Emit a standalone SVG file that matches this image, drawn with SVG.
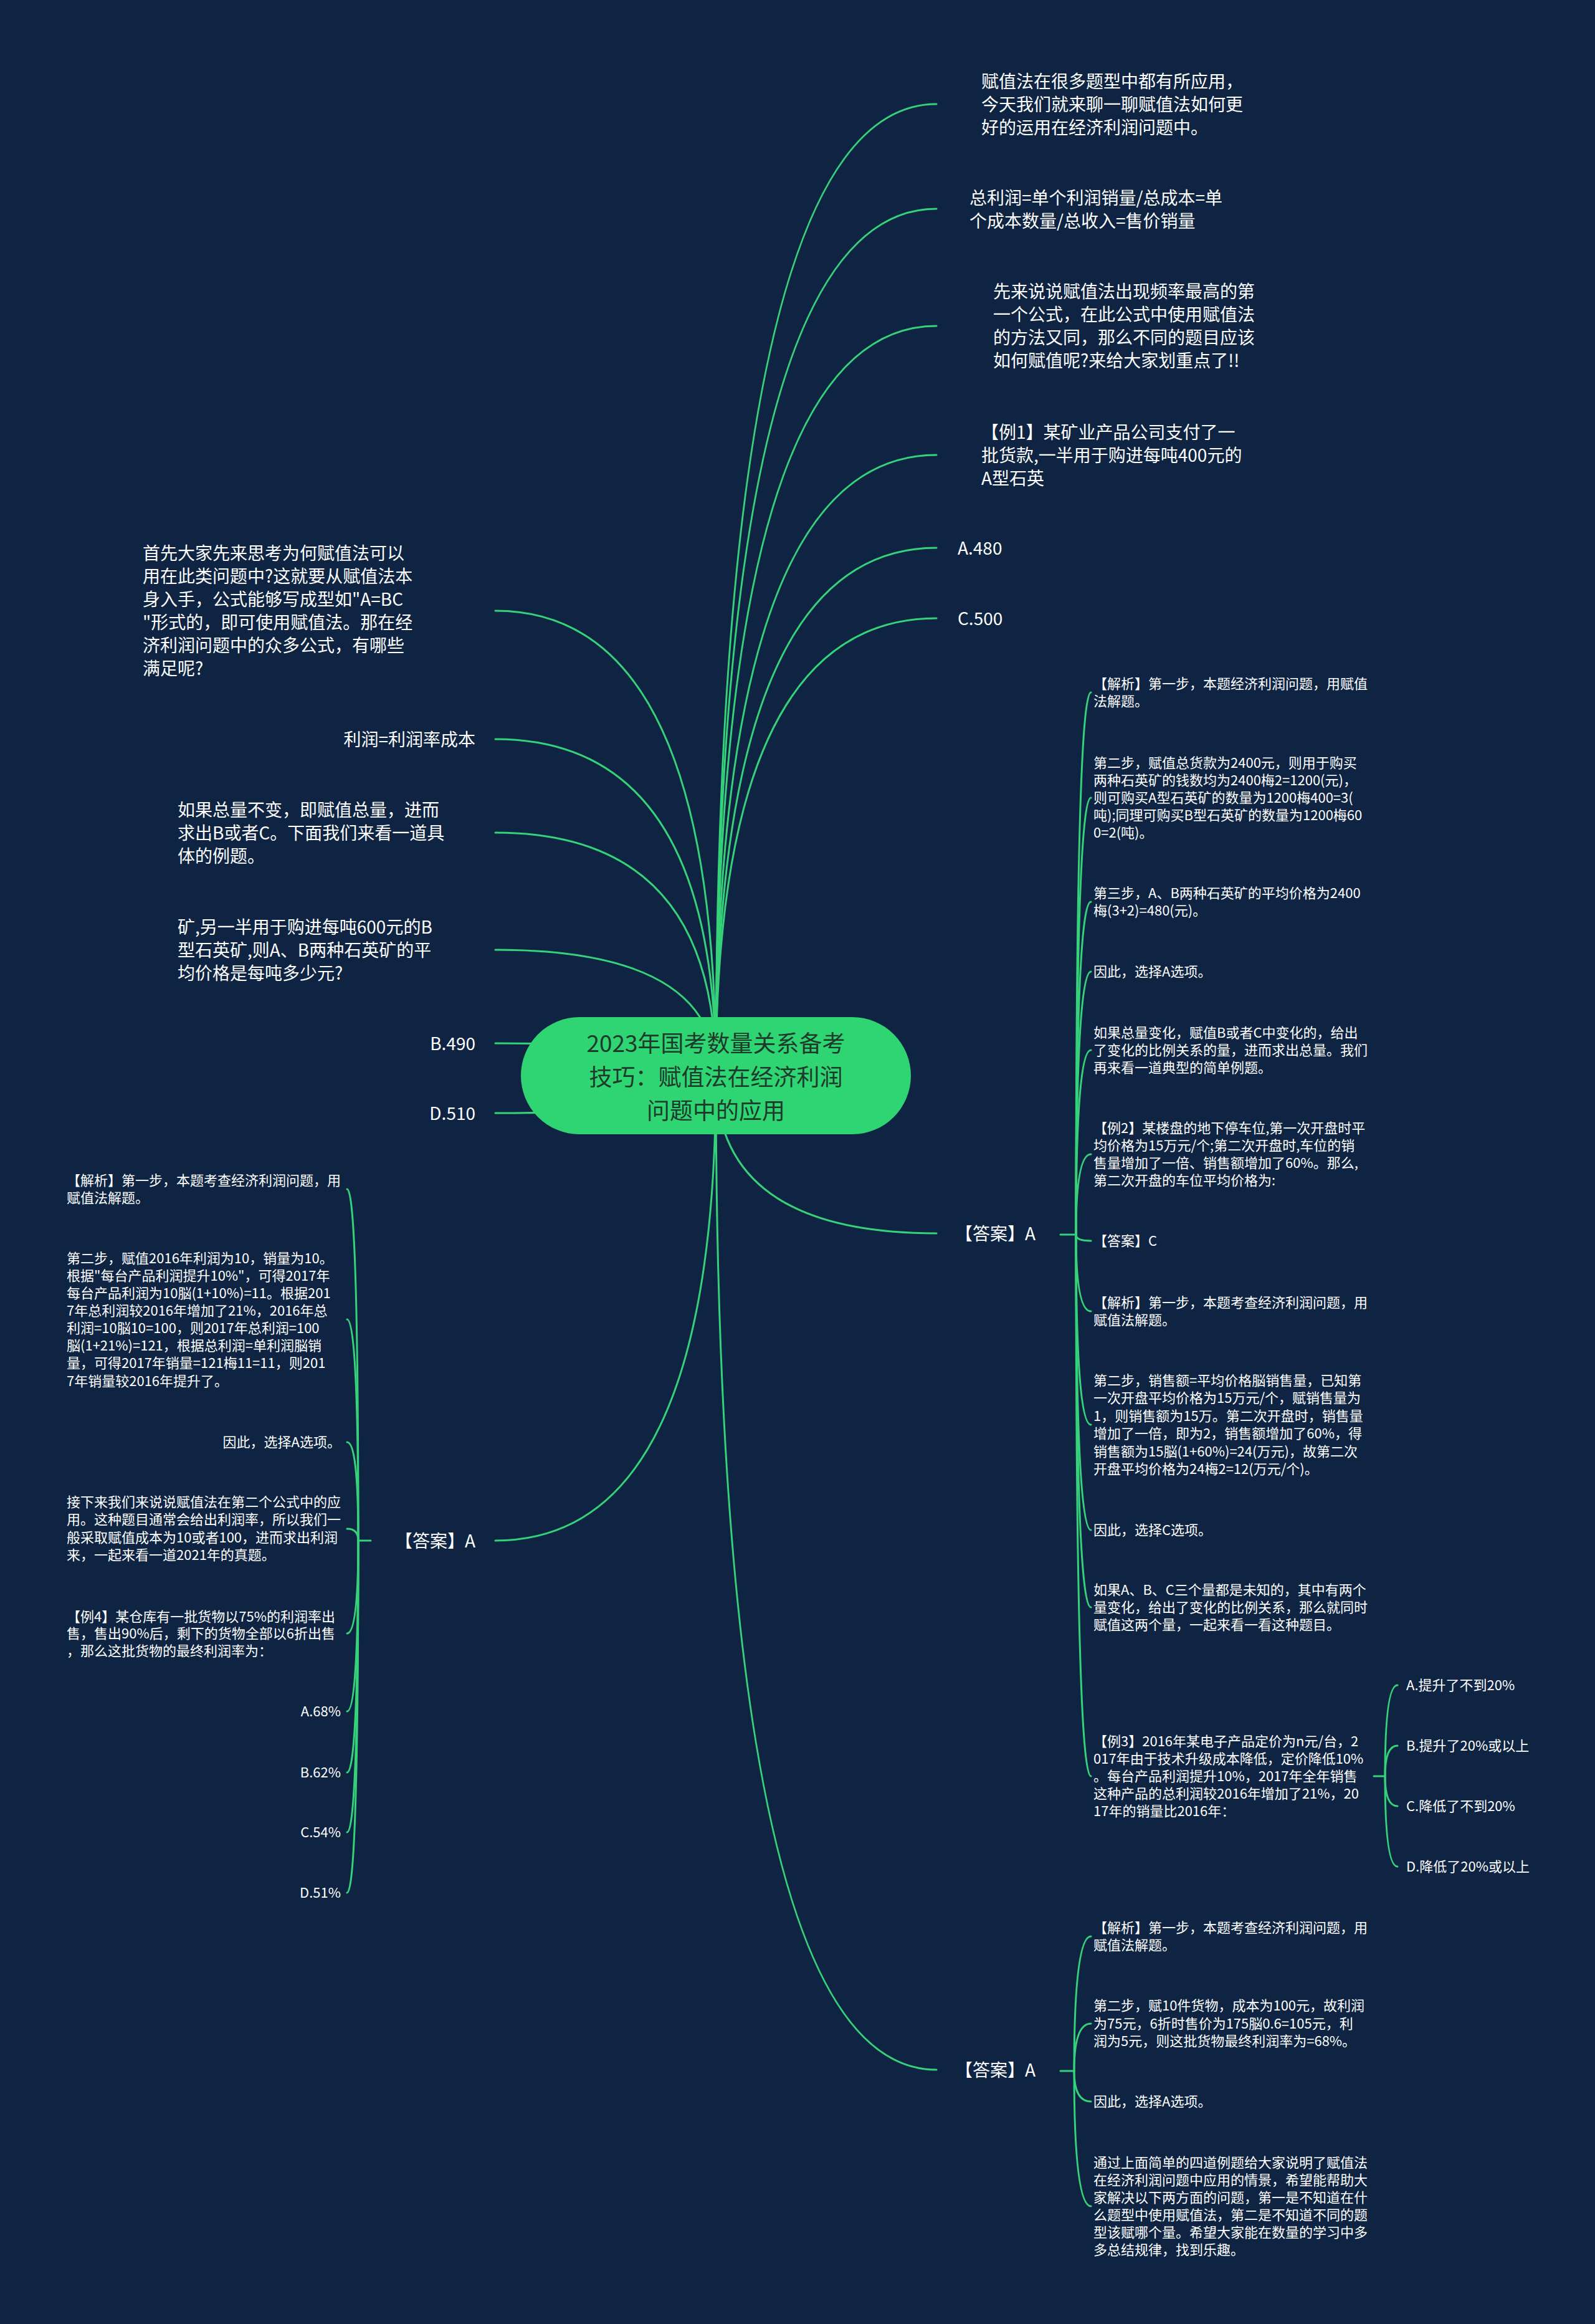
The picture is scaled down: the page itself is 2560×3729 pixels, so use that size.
<svg xmlns="http://www.w3.org/2000/svg" width="2560" height="3729" viewBox="0 0 2560 3729">
<style>
.t{font-family:"Noto Sans CJK SC","Noto Sans",sans-serif;fill:#ffffff}
.f28{font-size:28px}
.f22{font-size:22px}
.e{text-anchor:end}
.root{font-family:"Noto Sans CJK SC","Noto Sans",sans-serif;font-size:37px;fill:#1d3a2b;text-anchor:middle}
.c{fill:none;stroke:#36d27a;stroke-width:3;stroke-linecap:round}
</style>
<rect x="0" y="0" width="2560" height="3729" fill="#0e2442"/>
<g id="connectors">
<path class="c" d="M1149 1726 Q1149 167 1503 167"/>
<path class="c" d="M1149 1726 Q1149 335 1503 335"/>
<path class="c" d="M1149 1726 Q1149 523 1503 523"/>
<path class="c" d="M1149 1726 Q1149 730 1503 730"/>
<path class="c" d="M1149 1726 Q1149 879 1503 879"/>
<path class="c" d="M1149 1726 Q1149 992 1503 992"/>
<path class="c" d="M1149 1726 Q1149 1979 1503 1979"/>
<path class="c" d="M1149 1726 Q1149 3321 1503 3321"/>
<path class="c" d="M1149 1726 Q1149 980 795 980"/>
<path class="c" d="M1149 1726 Q1149 1186 795 1186"/>
<path class="c" d="M1149 1726 Q1149 1336 795 1336"/>
<path class="c" d="M1149 1726 Q1149 1524 795 1524"/>
<path class="c" d="M1149 1726 Q1149 1674 795 1674"/>
<path class="c" d="M1149 1726 Q1149 1786 795 1786"/>
<path class="c" d="M1149 1726 Q1149 2472 795 2472"/>
<!-- R7 bracket -->
<path class="c" d="M1702 1981 L1727 1981"/>
<path class="c" d="M1727 1981 Q1727 1111 1751 1111"/>
<path class="c" d="M1727 1981 Q1727 1280 1751 1280"/>
<path class="c" d="M1727 1981 Q1727 1447 1751 1447"/>
<path class="c" d="M1727 1981 Q1727 1559 1751 1559"/>
<path class="c" d="M1727 1981 Q1727 1685 1751 1685"/>
<path class="c" d="M1727 1981 Q1727 1852 1751 1852"/>
<path class="c" d="M1727 1981 Q1727 1991 1751 1991"/>
<path class="c" d="M1727 1981 Q1727 2104 1751 2104"/>
<path class="c" d="M1727 1981 Q1727 2286 1751 2286"/>
<path class="c" d="M1727 1981 Q1727 2455 1751 2455"/>
<path class="c" d="M1727 1981 Q1727 2579 1751 2579"/>
<path class="c" d="M1727 1981 Q1727 2850 1751 2850"/>
<!-- c12 bracket -->
<path class="c" d="M2205 2850 L2223 2850"/>
<path class="c" d="M2223 2850 Q2223 2704 2243 2704"/>
<path class="c" d="M2223 2850 Q2223 2801 2243 2801"/>
<path class="c" d="M2223 2850 Q2223 2898 2243 2898"/>
<path class="c" d="M2223 2850 Q2223 2995 2243 2995"/>
<!-- R8 bracket -->
<path class="c" d="M1702 3323 L1724 3323"/>
<path class="c" d="M1724 3323 Q1724 3107 1751 3107"/>
<path class="c" d="M1724 3323 Q1724 3247 1751 3247"/>
<path class="c" d="M1724 3323 Q1724 3372 1751 3372"/>
<path class="c" d="M1724 3323 Q1724 3540 1751 3540"/>
<!-- L7 bracket -->
<path class="c" d="M595 2472 L575 2472"/>
<path class="c" d="M575 2472 Q575 1908 557 1908"/>
<path class="c" d="M575 2472 Q575 2117 557 2117"/>
<path class="c" d="M575 2472 Q575 2314 557 2314"/>
<path class="c" d="M575 2472 Q575 2453 557 2453"/>
<path class="c" d="M575 2472 Q575 2621 557 2621"/>
<path class="c" d="M575 2472 Q575 2746 557 2746"/>
<path class="c" d="M575 2472 Q575 2844 557 2844"/>
<path class="c" d="M575 2472 Q575 2940 557 2940"/>
<path class="c" d="M575 2472 Q575 3037 557 3037"/>
</g>
<g id="root">
<rect x="836" y="1632" width="626" height="188" rx="94" ry="94" fill="#30d573"/>
<text class="root"><tspan x="1149" y="1688">2023年国考数量关系备考</tspan><tspan x="1149" y="1742">技巧：赋值法在经济利润</tspan><tspan x="1149" y="1796">问题中的应用</tspan></text>
</g>
<g id="r1"><text class="t f28"><tspan x="1575" y="141">赋值法在很多题型中都有所应用，</tspan><tspan x="1575" y="178">今天我们就来聊一聊赋值法如何更</tspan><tspan x="1575" y="215">好的运用在经济利润问题中。</tspan></text></g>
<g id="r2"><text class="t f28"><tspan x="1556" y="328">总利润=单个利润销量/总成本=单</tspan><tspan x="1556" y="365">个成本数量/总收入=售价销量</tspan></text></g>
<g id="r3"><text class="t f28"><tspan x="1594" y="478">先来说说赋值法出现频率最高的第</tspan><tspan x="1594" y="515">一个公式，在此公式中使用赋值法</tspan><tspan x="1594" y="552">的方法又同，那么不同的题目应该</tspan><tspan x="1594" y="589">如何赋值呢?来给大家划重点了!!</tspan></text></g>
<g id="r4"><text class="t f28"><tspan x="1575" y="704">【例1】某矿业产品公司支付了一</tspan><tspan x="1575" y="741">批货款,一半用于购进每吨400元的</tspan><tspan x="1575" y="778">A型石英</tspan></text></g>
<g id="r5"><text class="t f28" x="1537" y="890">A.480</text></g>
<g id="r6"><text class="t f28" x="1537" y="1003">C.500</text></g>
<g id="r7"><text class="t f28" x="1533" y="1990">【答案】A</text></g>
<g id="r8"><text class="t f28" x="1533" y="3332">【答案】A</text></g>
<g id="l1"><text class="t f28"><tspan x="229" y="898">首先大家先来思考为何赋值法可以</tspan><tspan x="229" y="935">用在此类问题中?这就要从赋值法本</tspan><tspan x="229" y="972">身入手，公式能够写成型如"A=BC</tspan><tspan x="229" y="1009">"形式的，即可使用赋值法。那在经</tspan><tspan x="229" y="1046">济利润问题中的众多公式，有哪些</tspan><tspan x="229" y="1083">满足呢?</tspan></text></g>
<g id="l2"><text class="t f28 e" x="763" y="1197">利润=利润率成本</text></g>
<g id="l3"><text class="t f28"><tspan x="285" y="1310">如果总量不变，即赋值总量，进而</tspan><tspan x="285" y="1347">求出B或者C。下面我们来看一道具</tspan><tspan x="285" y="1384">体的例题。</tspan></text></g>
<g id="l4"><text class="t f28"><tspan x="285" y="1498">矿,另一半用于购进每吨600元的B</tspan><tspan x="285" y="1535">型石英矿,则A、B两种石英矿的平</tspan><tspan x="285" y="1572">均价格是每吨多少元?</tspan></text></g>
<g id="l5"><text class="t f28 e" x="763" y="1685">B.490</text></g>
<g id="l6"><text class="t f28 e" x="763" y="1797">D.510</text></g>
<g id="l7"><text class="t f28 e" x="763" y="2483">【答案】A</text></g>
<g id="c1"><text class="t f22"><tspan x="1755" y="1105">【解析】第一步，本题经济利润问题，用赋值</tspan><tspan x="1755" y="1133">法解题。</tspan></text></g>
<g id="c2"><text class="t f22"><tspan x="1755" y="1232">第二步，赋值总货款为2400元，则用于购买</tspan><tspan x="1755" y="1260">两种石英矿的钱数均为2400梅2=1200(元)，</tspan><tspan x="1755" y="1288">则可购买A型石英矿的数量为1200梅400=3(</tspan><tspan x="1755" y="1316">吨);同理可购买B型石英矿的数量为1200梅60</tspan><tspan x="1755" y="1344">0=2(吨)。</tspan></text></g>
<g id="c3"><text class="t f22"><tspan x="1755" y="1441">第三步，A、B两种石英矿的平均价格为2400</tspan><tspan x="1755" y="1469">梅(3+2)=480(元)。</tspan></text></g>
<g id="c4"><text class="t f22" x="1755" y="1567">因此，选择A选项。</text></g>
<g id="c5"><text class="t f22"><tspan x="1755" y="1665">如果总量变化，赋值B或者C中变化的，给出</tspan><tspan x="1755" y="1693">了变化的比例关系的量，进而求出总量。我们</tspan><tspan x="1755" y="1721">再来看一道典型的简单例题。</tspan></text></g>
<g id="c6"><text class="t f22"><tspan x="1755" y="1818">【例2】某楼盘的地下停车位,第一次开盘时平</tspan><tspan x="1755" y="1846">均价格为15万元/个;第二次开盘时,车位的销</tspan><tspan x="1755" y="1874">售量增加了一倍、销售额增加了60%。那么,</tspan><tspan x="1755" y="1902">第二次开盘的车位平均价格为:</tspan></text></g>
<g id="c7"><text class="t f22" x="1755" y="1999">【答案】C</text></g>
<g id="c8"><text class="t f22"><tspan x="1755" y="2098">【解析】第一步，本题考查经济利润问题，用</tspan><tspan x="1755" y="2126">赋值法解题。</tspan></text></g>
<g id="c9"><text class="t f22"><tspan x="1755" y="2223">第二步，销售额=平均价格脳销售量，已知第</tspan><tspan x="1755" y="2251">一次开盘平均价格为15万元/个，赋销售量为</tspan><tspan x="1755" y="2280">1，则销售额为15万。第二次开盘时，销售量</tspan><tspan x="1755" y="2308">增加了一倍，即为2，销售额增加了60%，得</tspan><tspan x="1755" y="2337">销售额为15脳(1+60%)=24(万元)，故第二次</tspan><tspan x="1755" y="2365">开盘平均价格为24梅2=12(万元/个)。</tspan></text></g>
<g id="c10"><text class="t f22" x="1755" y="2463">因此，选择C选项。</text></g>
<g id="c11"><text class="t f22"><tspan x="1755" y="2559">如果A、B、C三个量都是未知的，其中有两个</tspan><tspan x="1755" y="2587">量变化，给出了变化的比例关系，那么就同时</tspan><tspan x="1755" y="2615">赋值这两个量，一起来看一看这种题目。</tspan></text></g>
<g id="c12"><text class="t f22"><tspan x="1755" y="2802">【例3】2016年某电子产品定价为n元/台，2</tspan><tspan x="1755" y="2830">017年由于技术升级成本降低，定价降低10%</tspan><tspan x="1755" y="2858">。每台产品利润提升10%，2017年全年销售</tspan><tspan x="1755" y="2886">这种产品的总利润较2016年增加了21%，20</tspan><tspan x="1755" y="2914">17年的销量比2016年：</tspan></text></g>
<g id="c12a"><text class="t f22" x="2257" y="2712">A.提升了不到20%</text></g>
<g id="c12b"><text class="t f22" x="2257" y="2809">B.提升了20%或以上</text></g>
<g id="c12c"><text class="t f22" x="2257" y="2906">C.降低了不到20%</text></g>
<g id="c12d"><text class="t f22" x="2257" y="3003">D.降低了20%或以上</text></g>
<g id="d1"><text class="t f22"><tspan x="1755" y="3101">【解析】第一步，本题考查经济利润问题，用</tspan><tspan x="1755" y="3129">赋值法解题。</tspan></text></g>
<g id="d2"><text class="t f22"><tspan x="1755" y="3226">第二步，赋10件货物，成本为100元，故利润</tspan><tspan x="1755" y="3255">为75元，6折时售价为175脳0.6=105元，利</tspan><tspan x="1755" y="3283">润为5元，则这批货物最终利润率为=68%。</tspan></text></g>
<g id="d3"><text class="t f22" x="1755" y="3380">因此，选择A选项。</text></g>
<g id="d4"><text class="t f22"><tspan x="1755" y="3478">通过上面简单的四道例题给大家说明了赋值法</tspan><tspan x="1755" y="3506">在经济利润问题中应用的情景，希望能帮助大</tspan><tspan x="1755" y="3534">家解决以下两方面的问题，第一是不知道在什</tspan><tspan x="1755" y="3562">么题型中使用赋值法，第二是不知道不同的题</tspan><tspan x="1755" y="3590">型该赋哪个量。希望大家能在数量的学习中多</tspan><tspan x="1755" y="3618">多总结规律，找到乐趣。</tspan></text></g>
<g id="e1"><text class="t f22"><tspan x="107" y="1902">【解析】第一步，本题考查经济利润问题，用</tspan><tspan x="107" y="1930">赋值法解题。</tspan></text></g>
<g id="e2"><text class="t f22"><tspan x="107" y="2027">第二步，赋值2016年利润为10，销量为10。</tspan><tspan x="107" y="2055">根据"每台产品利润提升10%"，可得2017年</tspan><tspan x="107" y="2083">每台产品利润为10脳(1+10%)=11。根据201</tspan><tspan x="107" y="2111">7年总利润较2016年增加了21%，2016年总</tspan><tspan x="107" y="2139">利润=10脳10=100，则2017年总利润=100</tspan><tspan x="107" y="2167">脳(1+21%)=121，根据总利润=单利润脳销</tspan><tspan x="107" y="2195">量，可得2017年销量=121梅11=11，则201</tspan><tspan x="107" y="2224">7年销量较2016年提升了。</tspan></text></g>
<g id="e3"><text class="t f22 e" x="547" y="2322">因此，选择A选项。</text></g>
<g id="e4"><text class="t f22"><tspan x="107" y="2418">接下来我们来说说赋值法在第二个公式中的应</tspan><tspan x="107" y="2446">用。这种题目通常会给出利润率，所以我们一</tspan><tspan x="107" y="2475">般采取赋值成本为10或者100，进而求出利润</tspan><tspan x="107" y="2503">来，一起来看一道2021年的真题。</tspan></text></g>
<g id="e5"><text class="t f22"><tspan x="107" y="2602">【例4】某仓库有一批货物以75%的利润率出</tspan><tspan x="107" y="2629">售，售出90%后，剩下的货物全部以6折出售</tspan><tspan x="107" y="2657">，那么这批货物的最终利润率为：</tspan></text></g>
<g id="e6"><text class="t f22 e" x="547" y="2754">A.68%</text></g>
<g id="e7"><text class="t f22 e" x="547" y="2852">B.62%</text></g>
<g id="e8"><text class="t f22 e" x="547" y="2948">C.54%</text></g>
<g id="e9"><text class="t f22 e" x="547" y="3045">D.51%</text></g>
</svg>
